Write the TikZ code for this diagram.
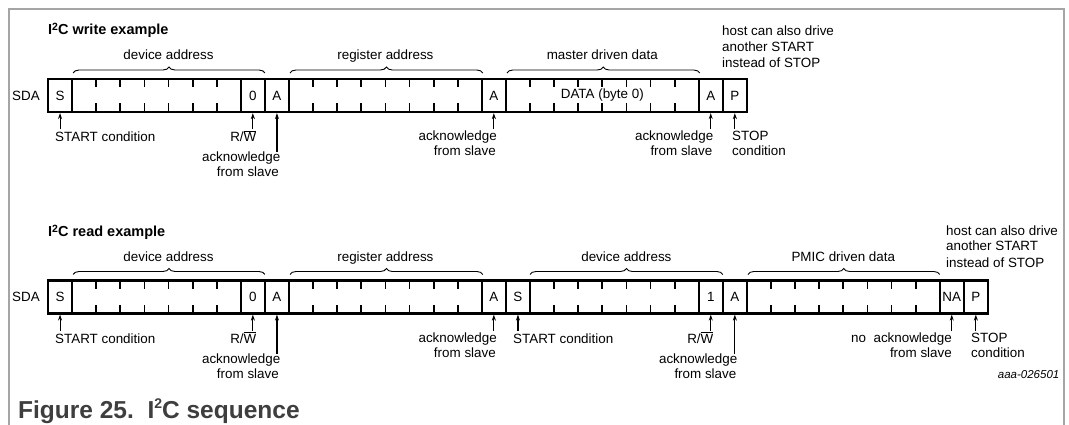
\documentclass[tikz,border=0pt]{standalone}
\usepackage{fontspec}
\setmainfont{Liberation Sans}
\usetikzlibrary{arrows.meta,decorations.pathreplacing}
\definecolor{framegray}{RGB}{165,165,165}
\definecolor{capgray}{RGB}{62,62,62}
\newcommand{\cxx}[1]{(48+24.1*(#1))}
\begin{document}
\begin{tikzpicture}[x=1pt,y=-1pt,
  txt/.style={inner sep=0pt,font=\fontsize{13.4}{15}\selectfont},
  cellbox/.style={draw,line width=2.2pt,minimum width=24.1pt,minimum height=33pt,inner sep=0pt,font=\fontsize{13.4}{15}\selectfont},
  fieldbox/.style={draw,line width=2.2pt,minimum height=33pt,inner sep=0pt,font=\fontsize{13.4}{15}\selectfont},
  tickline/.style={line width=1.8pt},
  bracepath/.style={decorate,decoration={brace,amplitude=6pt},line width=0.9pt},
  arr/.style={-{Stealth[length=6pt,width=4pt]},line width=1.1pt},
  framebar/.style={draw=framegray,line width=1.5pt},
  titletxt/.style={inner sep=0pt,font=\bfseries\fontsize{14.5}{16}\selectfont}]
\useasboundingbox (0,0) rectangle (1069,425);
\draw[framebar] (9,425) -- (9,9) -- (1064,9) -- (1064,425);

% ================= WRITE =================
\node[titletxt,anchor=base west] (wtitle) at (48,34.3) {I\raisebox{0.5ex}{\fontsize{10.5}{10}\selectfont 2}C write example};
\node[txt,anchor=east] (wsda) at (40,95.5) {SDA};
\node[cellbox] (wS) at ({\cxx{0.5}},95.5) {S};
\node[fieldbox,minimum width=168.7pt] (wdev) at ({\cxx{4.5}},95.5) {};
\node[cellbox] (wRW) at ({\cxx{8.5}},95.5) {0};
\node[cellbox] (wA1) at ({\cxx{9.5}},95.5) {A};
\node[fieldbox,minimum width=192.8pt] (wreg) at ({\cxx{14}},95.5) {};
\node[cellbox] (wA2) at ({\cxx{18.5}},95.5) {A};
\node[fieldbox,minimum width=192.8pt] (wdata) at ({\cxx{23}},95.5) {DATA (byte 0)};
\node[cellbox] (wA3) at ({\cxx{27.5}},95.5) {A};
\node[cellbox] (wP) at ({\cxx{28.5}},95.5) {P};
\foreach \k in {2,...,7,11,12,...,17,20,21,...,26}{
  \draw[tickline] ({\cxx{\k}},79) -- ++(0,8.5);
  \draw[tickline] ({\cxx{\k}},112) -- ++(0,-8.5);
}
\draw[bracepath] ({\cxx{1}+1},73) -- ({\cxx{9}},73);
\draw[bracepath] ({\cxx{10}+1},73) -- ({\cxx{18}+1},73);
\draw[bracepath] ({\cxx{19}+1},73) -- ({\cxx{27}+1},73);
\node[txt,anchor=base] (wlb1) at ({\cxx{5}},60) {device address};
\node[txt,anchor=base] (wlb2) at ({\cxx{14}},60) {register address};
\node[txt,anchor=base] (wlb3) at ({\cxx{23}},60) {master driven data};
\node[txt,anchor=base west] (wh1) at (722,36) {host can also drive};
\node[txt,anchor=base west] (wh2) at (722,52) {another START};
\node[txt,anchor=base west] (wh3) at (722,68) {instead of STOP};
% annotations
\coordinate (waS) at ({\cxx{0.5}},129);
\draw[arr] (waS) -- (wS.south);
\node[txt,anchor=base west] (wtS) at (55,141.5) {START condition};
\coordinate (waRW) at ({\cxx{8.5}},129);
\draw[arr] (waRW) -- (wRW.south);
\node[txt,anchor=base east] (wtRW) at (256.5,141.5) {R/\(\overline{\hbox{W}}\)};
\coordinate (waA1) at ({\cxx{9.5}},152);
\draw[arr] (waA1) -- (wA1.south);
\node[txt,anchor=base east] (wtA1a) at (280.5,161.5) {acknowledge};
\node[txt,anchor=base east] (wtA1b) at (279,176.5) {from slave};
\coordinate (waA2) at ({\cxx{18.5}},129);
\draw[arr] (waA2) -- (wA2.south);
\node[txt,anchor=base east] (wtA2a) at (497,141) {acknowledge};
\node[txt,anchor=base east] (wtA2b) at (496,156) {from slave};
\coordinate (waA3) at ({\cxx{27.5}},129);
\draw[arr] (waA3) -- (wA3.south);
\node[txt,anchor=base east] (wtA3a) at (713.5,141) {acknowledge};
\node[txt,anchor=base east] (wtA3b) at (712.5,156) {from slave};
\coordinate (waP) at ({\cxx{28.5}},129);
\draw[arr] (waP) -- (wP.south);
\node[txt,anchor=base west] (wtPa) at (732,141) {STOP};
\node[txt,anchor=base west] (wtPb) at (732,156) {condition};

% ================= READ =================
\node[titletxt,anchor=base west] (rtitle) at (48,236.5) {I\raisebox{0.5ex}{\fontsize{10.5}{10}\selectfont 2}C read example};
\node[txt,anchor=east] (rsda) at (40,297) {SDA};
\node[cellbox] (rS) at ({\cxx{0.5}},297) {S};
\node[fieldbox,minimum width=168.7pt] (rdev) at ({\cxx{4.5}},297) {};
\node[cellbox] (rRW) at ({\cxx{8.5}},297) {0};
\node[cellbox] (rA1) at ({\cxx{9.5}},297) {A};
\node[fieldbox,minimum width=192.8pt] (rreg) at ({\cxx{14}},297) {};
\node[cellbox] (rA2) at ({\cxx{18.5}},297) {A};
\node[cellbox] (rS2) at ({\cxx{19.5}},297) {S};
\node[fieldbox,minimum width=168.7pt] (rdev2) at ({\cxx{23.5}},297) {};
\node[cellbox] (rRW2) at ({\cxx{27.5}},297) {1};
\node[cellbox] (rA3) at ({\cxx{28.5}},297) {A};
\node[fieldbox,minimum width=192.8pt] (rdata) at ({\cxx{33}},297) {};
\node[cellbox] (rNA) at ({\cxx{37.5}},297) {NA};
\node[cellbox] (rP) at ({\cxx{38.5}},297) {P};
\foreach \k in {2,...,7,11,12,...,17,21,22,...,26,30,31,...,36}{
  \draw[tickline] ({\cxx{\k}},280.5) -- ++(0,8.5);
  \draw[tickline] ({\cxx{\k}},313.5) -- ++(0,-8.5);
}
\draw[bracepath] ({\cxx{1}+1},274.5) -- ({\cxx{9}},274.5);
\draw[bracepath] ({\cxx{10}+1},274.5) -- ({\cxx{18}+1},274.5);
\draw[bracepath] ({\cxx{20}},274.5) -- ({\cxx{28}},274.5);
\draw[bracepath] ({\cxx{29}+1},274.5) -- ({\cxx{37}},274.5);
\node[txt,anchor=base] (rlb1) at ({\cxx{5}},261.5) {device address};
\node[txt,anchor=base] (rlb2) at ({\cxx{14}},261.5) {register address};
\node[txt,anchor=base] (rlb3) at ({\cxx{24}},261.5) {device address};
\node[txt,anchor=base] (rlb4) at ({\cxx{33}},261.5) {PMIC driven data};
\node[txt,anchor=base west] (rh1) at (946,235) {host can also drive};
\node[txt,anchor=base west] (rh2) at (946,251) {another START};
\node[txt,anchor=base west] (rh3) at (946,267) {instead of STOP};
% annotations
\coordinate (raS) at ({\cxx{0.5}},330.5);
\draw[arr] (raS) -- (rS.south);
\node[txt,anchor=base west] (rtS) at (55,343) {START condition};
\coordinate (raRW) at ({\cxx{8.5}},330.5);
\draw[arr] (raRW) -- (rRW.south);
\node[txt,anchor=base east] (rtRW) at (256.5,343) {R/\(\overline{\hbox{W}}\)};
\coordinate (raA1) at ({\cxx{9.5}},353.5);
\draw[arr] (raA1) -- (rA1.south);
\node[txt,anchor=base east] (rtA1a) at (280.5,363) {acknowledge};
\node[txt,anchor=base east] (rtA1b) at (279,378) {from slave};
\coordinate (raA2) at ({\cxx{18.5}},330.5);
\draw[arr] (raA2) -- (rA2.south);
\node[txt,anchor=base east] (rtA2a) at (497,342.5) {acknowledge};
\node[txt,anchor=base east] (rtA2b) at (496,357.5) {from slave};
\coordinate (raS2) at ({\cxx{19.5}},330.5);
\draw[arr] (raS2) -- (rS2.south);
\node[txt,anchor=base west] (rtS2) at (513,343) {START condition};
\coordinate (raRW2) at ({\cxx{27.5}},330.5);
\draw[arr] (raRW2) -- (rRW2.south);
\node[txt,anchor=base east] (rtRW2) at (713.5,343) {R/\(\overline{\hbox{W}}\)};
\coordinate (raA3) at ({\cxx{28.5}},353.5);
\draw[arr] (raA3) -- (rA3.south);
\node[txt,anchor=base east] (rtA3a) at (737.5,363) {acknowledge};
\node[txt,anchor=base east] (rtA3b) at (736.5,378) {from slave};
\coordinate (raNA) at ({\cxx{37.5}},330.5);
\draw[arr] (raNA) -- (rNA.south);
\node[txt,anchor=base east] (rtNAa) at (952,342.5) {no\ \ acknowledge};
\node[txt,anchor=base east] (rtNAb) at (952,357.5) {from slave};
\coordinate (raP) at ({\cxx{38.5}},330.5);
\draw[arr] (raP) -- (rP.south);
\node[txt,anchor=base west] (rtPa) at (971,342.5) {STOP};
\node[txt,anchor=base west] (rtPb) at (971,357.5) {condition};
\node[inner sep=0pt,anchor=base east,font=\itshape\fontsize{11.5}{12}\selectfont] (code) at (1059.5,378) {aaa-026501};

% caption
\node[inner sep=0pt,anchor=base west,text=capgray,font=\bfseries\fontsize{24.5}{26}\selectfont] (cap) at (18,418.3)
  {Figure 25.\ \ I\raisebox{0.42em}{\fontsize{14}{14}\selectfont 2}C sequence};
\end{tikzpicture}
\end{document}
